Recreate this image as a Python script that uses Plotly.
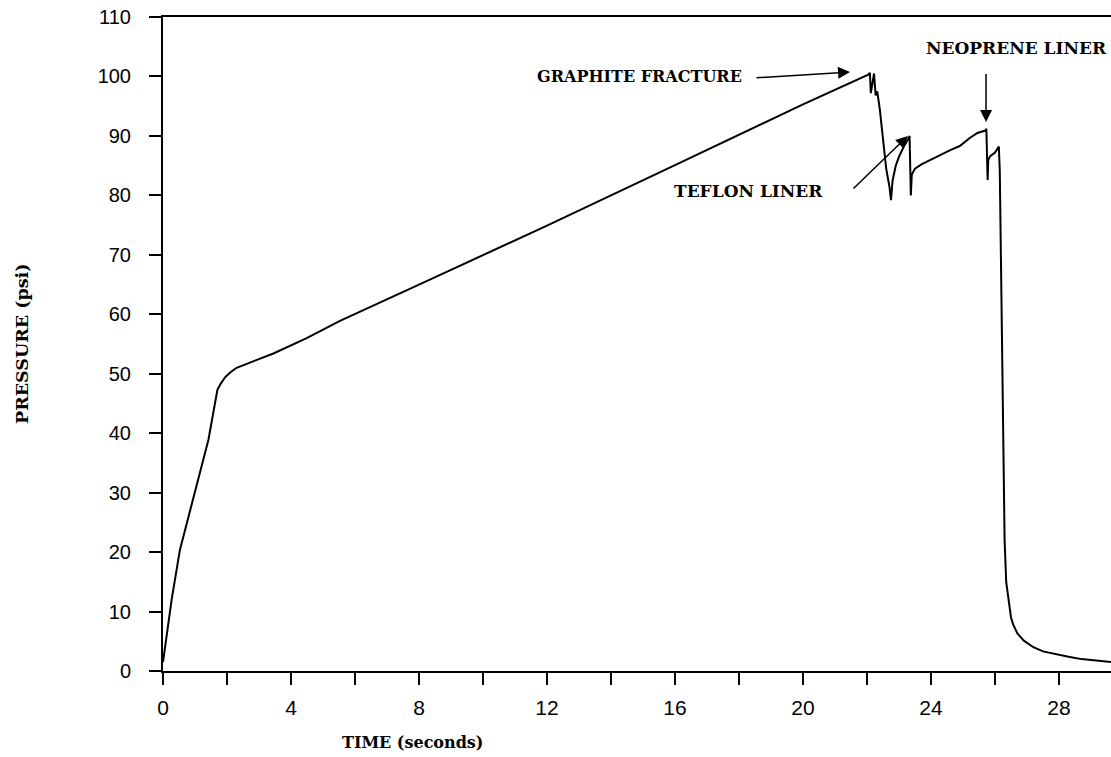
import plotly.graph_objects as go

# Pressure trace (time in seconds, pressure in psi)
time_s = [0.0, 0.06, 0.27, 0.53, 0.84, 1.21, 1.42, 1.70, 1.80, 1.94, 2.10, 2.30,
          3.45, 4.49, 5.53, 8.0, 12.0, 16.0, 20.0, 22.04,
          22.09, 22.12, 22.18, 22.22, 22.27, 22.32, 22.40, 22.50, 22.60, 22.70, 22.75,
          22.80, 22.90, 23.00, 23.15, 23.30, 23.33, 23.35, 23.37, 23.40, 23.50, 23.70,
          24.00, 24.30, 24.60, 24.90, 25.20, 25.45, 25.70, 25.73, 25.75, 25.77, 25.79,
          25.85, 26.00, 26.12, 26.15, 26.20, 26.25, 26.30, 26.35, 26.42, 26.50, 26.57,
          26.70, 26.90, 27.20, 27.50, 27.90, 28.30, 28.70, 29.20, 29.625]
pressure_psi = [1.5, 4.0, 12.0, 20.4, 27.0, 34.4, 38.9, 47.3, 48.3, 49.4, 50.2, 51.0,
                53.4, 56.0, 58.9, 65.0, 74.9, 85.1, 95.3, 100.3,
                100.6, 97.2, 99.0, 100.5, 96.8, 97.5, 94.5, 89.0, 84.5, 81.5, 79.2,
                82.5, 85.0, 86.5, 88.2, 89.6, 90.0, 85.0, 80.0, 83.5, 84.5, 85.2,
                86.0, 86.9, 87.6, 88.3, 89.6, 90.5, 90.9, 91.2, 86.0, 82.6, 86.0,
                86.6, 87.2, 88.2, 84.0, 60.0, 40.0, 22.0, 15.0, 12.0, 9.0, 7.8,
                6.3, 5.1, 4.0, 3.3, 2.8, 2.4, 2.0, 1.7, 1.5]

# Event labels: (text, text x, text y, font size)
label_text = ["GRAPHITE FRACTURE", "TEFLON LINER", "NEOPRENE LINER"]
label_x = [14.88, 18.31, 26.67]
label_y = [100.0, 80.8, 104.8]
label_size = [16, 17, 17]

# Event arrows: tail (x, y) -> head (x, y)
arrow_tail_x = [18.50, 21.53, 25.72]
arrow_tail_y = [99.75, 80.9, 100.76]
arrow_head_x = [21.47, 23.28, 25.72]
arrow_head_y = [100.76, 90.0, 92.35]

serif = "DejaVu Serif"
sans = "Liberation Sans"

fig = go.Figure()
fig.add_trace(go.Scatter(x=time_s, y=pressure_psi, mode="lines",
                         line=dict(color="black", width=2), showlegend=False))

annotations = []
for t, lx, ly, fs in zip(label_text, label_x, label_y, label_size):
    annotations.append(dict(x=lx, y=ly, xref="x", yref="y", text="<b>%s</b>" % t,
                            showarrow=False, font=dict(family=serif, size=fs, color="black"),
                            xanchor="center", yanchor="middle"))
for tx, ty, hx, hy in zip(arrow_tail_x, arrow_tail_y, arrow_head_x, arrow_head_y):
    annotations.append(dict(x=hx, y=hy, ax=tx, ay=ty, xref="x", yref="y",
                            axref="x", ayref="y", text=" ", font=dict(size=1),
                            showarrow=True, arrowhead=2, arrowsize=1.6,
                            arrowwidth=1.5, arrowcolor="black", standoff=0))
annotations.append(dict(x=0.2627, y=-0.110, xref="paper", yref="paper",
                        text="<b>TIME (seconds)</b>", showarrow=False,
                        font=dict(family=serif, size=16, color="black"),
                        xanchor="center", yanchor="middle"))
annotations.append(dict(x=-0.1487, y=0.5, xref="paper", yref="paper",
                        text="<b>PRESSURE (psi)</b>", showarrow=False, textangle=-90,
                        font=dict(family=serif, size=17.5, color="black"),
                        xanchor="center", yanchor="middle"))

fig.update_layout(
    width=1111, height=757,
    margin=dict(l=163, r=0, t=17, b=86),
    paper_bgcolor="white", plot_bgcolor="white",
    annotations=annotations,
    xaxis=dict(range=[0, 29.625], tickmode="linear", tick0=0, dtick=4,
               ticks="outside", ticklen=12, tickwidth=2, tickcolor="black",
               showline=True, linecolor="black", linewidth=2, mirror=True,
               showgrid=False, zeroline=False, ticklabelstandoff=5,
               tickfont=dict(family=sans, size=21, color="black"),
               minor=dict(dtick=2, tick0=0, ticks="outside", ticklen=12,
                          tickwidth=2, tickcolor="black", showgrid=False)),
    yaxis=dict(range=[0, 110], tickmode="linear", tick0=0, dtick=10,
               ticks="outside", ticklen=12, tickwidth=2, tickcolor="black",
               showline=True, linecolor="black", linewidth=2,
               showgrid=False, zeroline=False, ticklabelstandoff=14,
               tickfont=dict(family=sans, size=20, color="black")),
)

fig.write_html("out.html")
